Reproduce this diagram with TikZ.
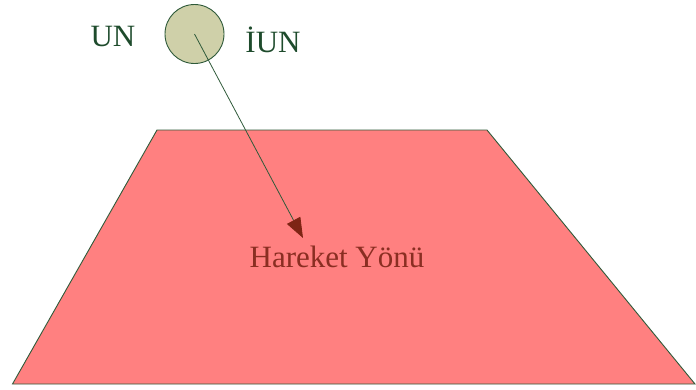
\documentclass[tikz,border=0pt]{standalone}
\usepackage{fontspec}
\setmainfont{Liberation Serif}
\usetikzlibrary{arrows.meta}
\definecolor{plane}{HTML}{FF8080}
\definecolor{edge}{HTML}{2F5A3A}
\definecolor{ball}{HTML}{CFD0A9}
\definecolor{greentext}{HTML}{1E4B2C}
\definecolor{redtext}{HTML}{8A2E22}
\definecolor{headred}{HTML}{7E2414}
\tikzset{
  lbl/.style={font=\fontsize{31}{36}\selectfont, anchor=base, inner sep=0pt},
  outline/.style={draw=edge, line width=0.9pt},
}
\begin{document}
\begin{tikzpicture}[x=1pt, y=-1pt]
\useasboundingbox (0,0) rectangle (696,389);
% plane
\path[fill=plane, outline] (157,130) coordinate (tl) -- (487,130) coordinate (tr)
  -- (695,384) coordinate (br) -- (12.5,384) coordinate (bl) -- cycle;
% ball
\node[circle, fill=ball, outline, minimum size=59pt, inner sep=0pt] (ball) at (194.5,34) {};
\coordinate (tip) at (303,238);
\draw[edge, line width=0.8pt, -{Triangle[length=20pt, width=15pt, fill=headred, color=headred]}] (ball.center) -- (tip);
% labels
\node[lbl, text=greentext] (un) at (113,46) {UN};
\node[lbl, text=greentext] (iun) at (273,52) {İUN};
\node[lbl, text=redtext] (dir) at (337,267) {Hareket Yönü};
\end{tikzpicture}
\end{document}
